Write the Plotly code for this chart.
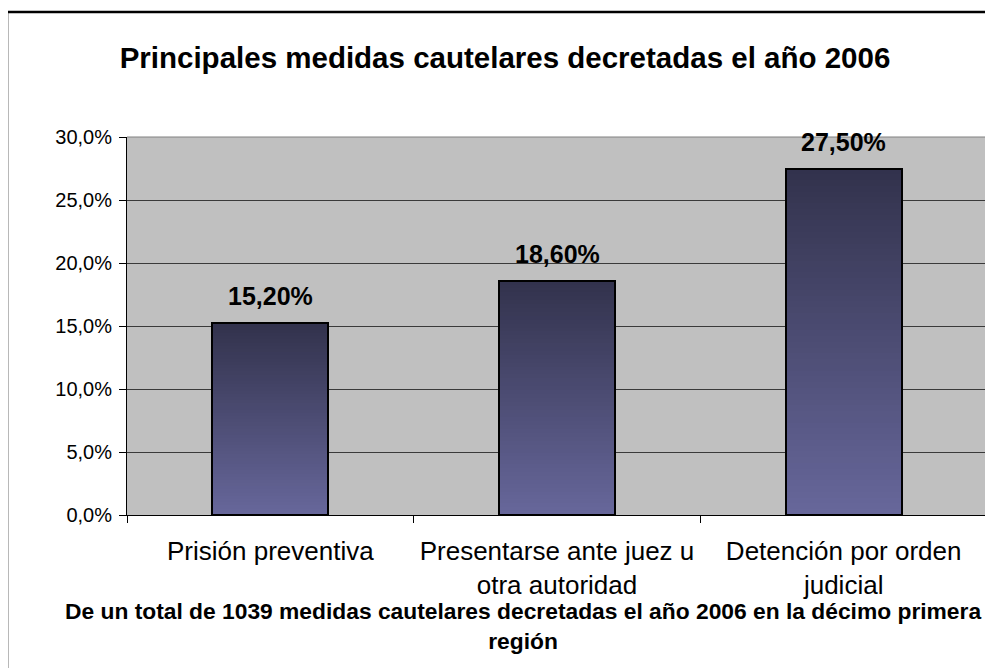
import plotly.graph_objs as go

# data
categories = [
    "Prisión preventiva",
    "Presentarse ante juez u<br>otra autoridad",
    "Detención por orden<br>judicial",
]
shares = [0.152, 0.186, 0.275]
y_ticks = [0.0, 0.05, 0.10, 0.15, 0.20, 0.25, 0.30]

title_text = "Principales medidas cautelares decretadas el año 2006"
note_text = ("De un total de 1039 medidas cautelares decretadas el año 2006 en la décimo primera"
             "<br>región")

FONT = "Liberation Sans, Arial, sans-serif"
TOP_RGB = (50, 50, 76)
BOTTOM_RGB = (103, 103, 155)
N_STEPS = 60
BAR_WIDTH = 0.405


def mix(c1, c2, t):
    r, g, b = (round(a + (b - a) * t) for a, b in zip(c1, c2))
    return f"rgb({r},{g},{b})"


fig = go.Figure()

# gradient fill: bars drawn over each other from 0, each one shorter and lighter
for k in range(N_STEPS):
    frac = 1 - k / N_STEPS
    fig.add_trace(go.Bar(
        x=categories,
        y=[v * frac for v in shares],
        width=BAR_WIDTH,
        marker=dict(color=mix(TOP_RGB, BOTTOM_RGB, (k + 0.5) / N_STEPS), line=dict(width=0)),
        hoverinfo="skip",
        showlegend=False,
    ))

# outline of the bars
fig.add_trace(go.Bar(
    x=categories,
    y=shares,
    width=BAR_WIDTH,
    marker=dict(color="rgba(0,0,0,0)", line=dict(color="black", width=2)),
    showlegend=False,
))

for cat, v in zip(categories, shares):
    fig.add_annotation(
        x=cat, y=v, text=f"{v * 100:.2f}%".replace(".", ","),
        showarrow=False, yanchor="bottom", yshift=11,
        font=dict(family=FONT, size=25, color="black", weight="bold"),
    )

fig.add_annotation(
    xref="paper", yref="paper", x=0.4605, y=-0.2937,
    text=note_text, showarrow=False, xanchor="center", yanchor="middle",
    font=dict(family=FONT, size=22.8, color="black", weight="bold"),
)

# outer chart border and plot-area frame (top / right)
fig.add_shape(type="rect", xref="paper", yref="paper", x0=-0.1395, x1=1.2, y0=-0.7, y1=1.3307,
              line=dict(color="black", width=2.5))
fig.add_shape(type="line", xref="paper", yref="paper", x0=0, x1=1, y0=1, y1=1,
              line=dict(color="#808080", width=1), layer="below")
fig.add_shape(type="line", xref="paper", yref="paper", x0=1, x1=1, y0=0, y1=1,
              line=dict(color="#808080", width=1), layer="below")

fig.update_layout(
    width=993, height=668,
    margin=dict(l=119, r=14, t=129, b=161),
    paper_bgcolor="white",
    plot_bgcolor="#C0C0C0",
    barmode="overlay",
    bargap=0,
    separators=",.",
    font=dict(family=FONT, color="black"),
    title=dict(
        text=title_text, xref="container", yref="container", x=0.5005, y=0.925,
        xanchor="center", yanchor="middle",
        font=dict(family=FONT, size=29.5, color="black", weight="bold"),
    ),
    xaxis=dict(
        type="category", showline=True, linecolor="black", linewidth=1,
        ticks="outside", tickson="boundaries", ticklen=7, tickcolor="black",
        showgrid=False, tickfont=dict(size=26), ticklabelstandoff=13,
    ),
    yaxis=dict(
        range=[0, 0.30], tickvals=y_ticks, tickformat=".1%",
        showline=True, linecolor="black", linewidth=1,
        ticks="outside", ticklen=7, tickcolor="black",
        showgrid=True, gridcolor="#3a3a3a", gridwidth=1, zeroline=False,
        tickfont=dict(size=20), ticklabelstandoff=3,
    ),
)

fig.write_html("out.html")
